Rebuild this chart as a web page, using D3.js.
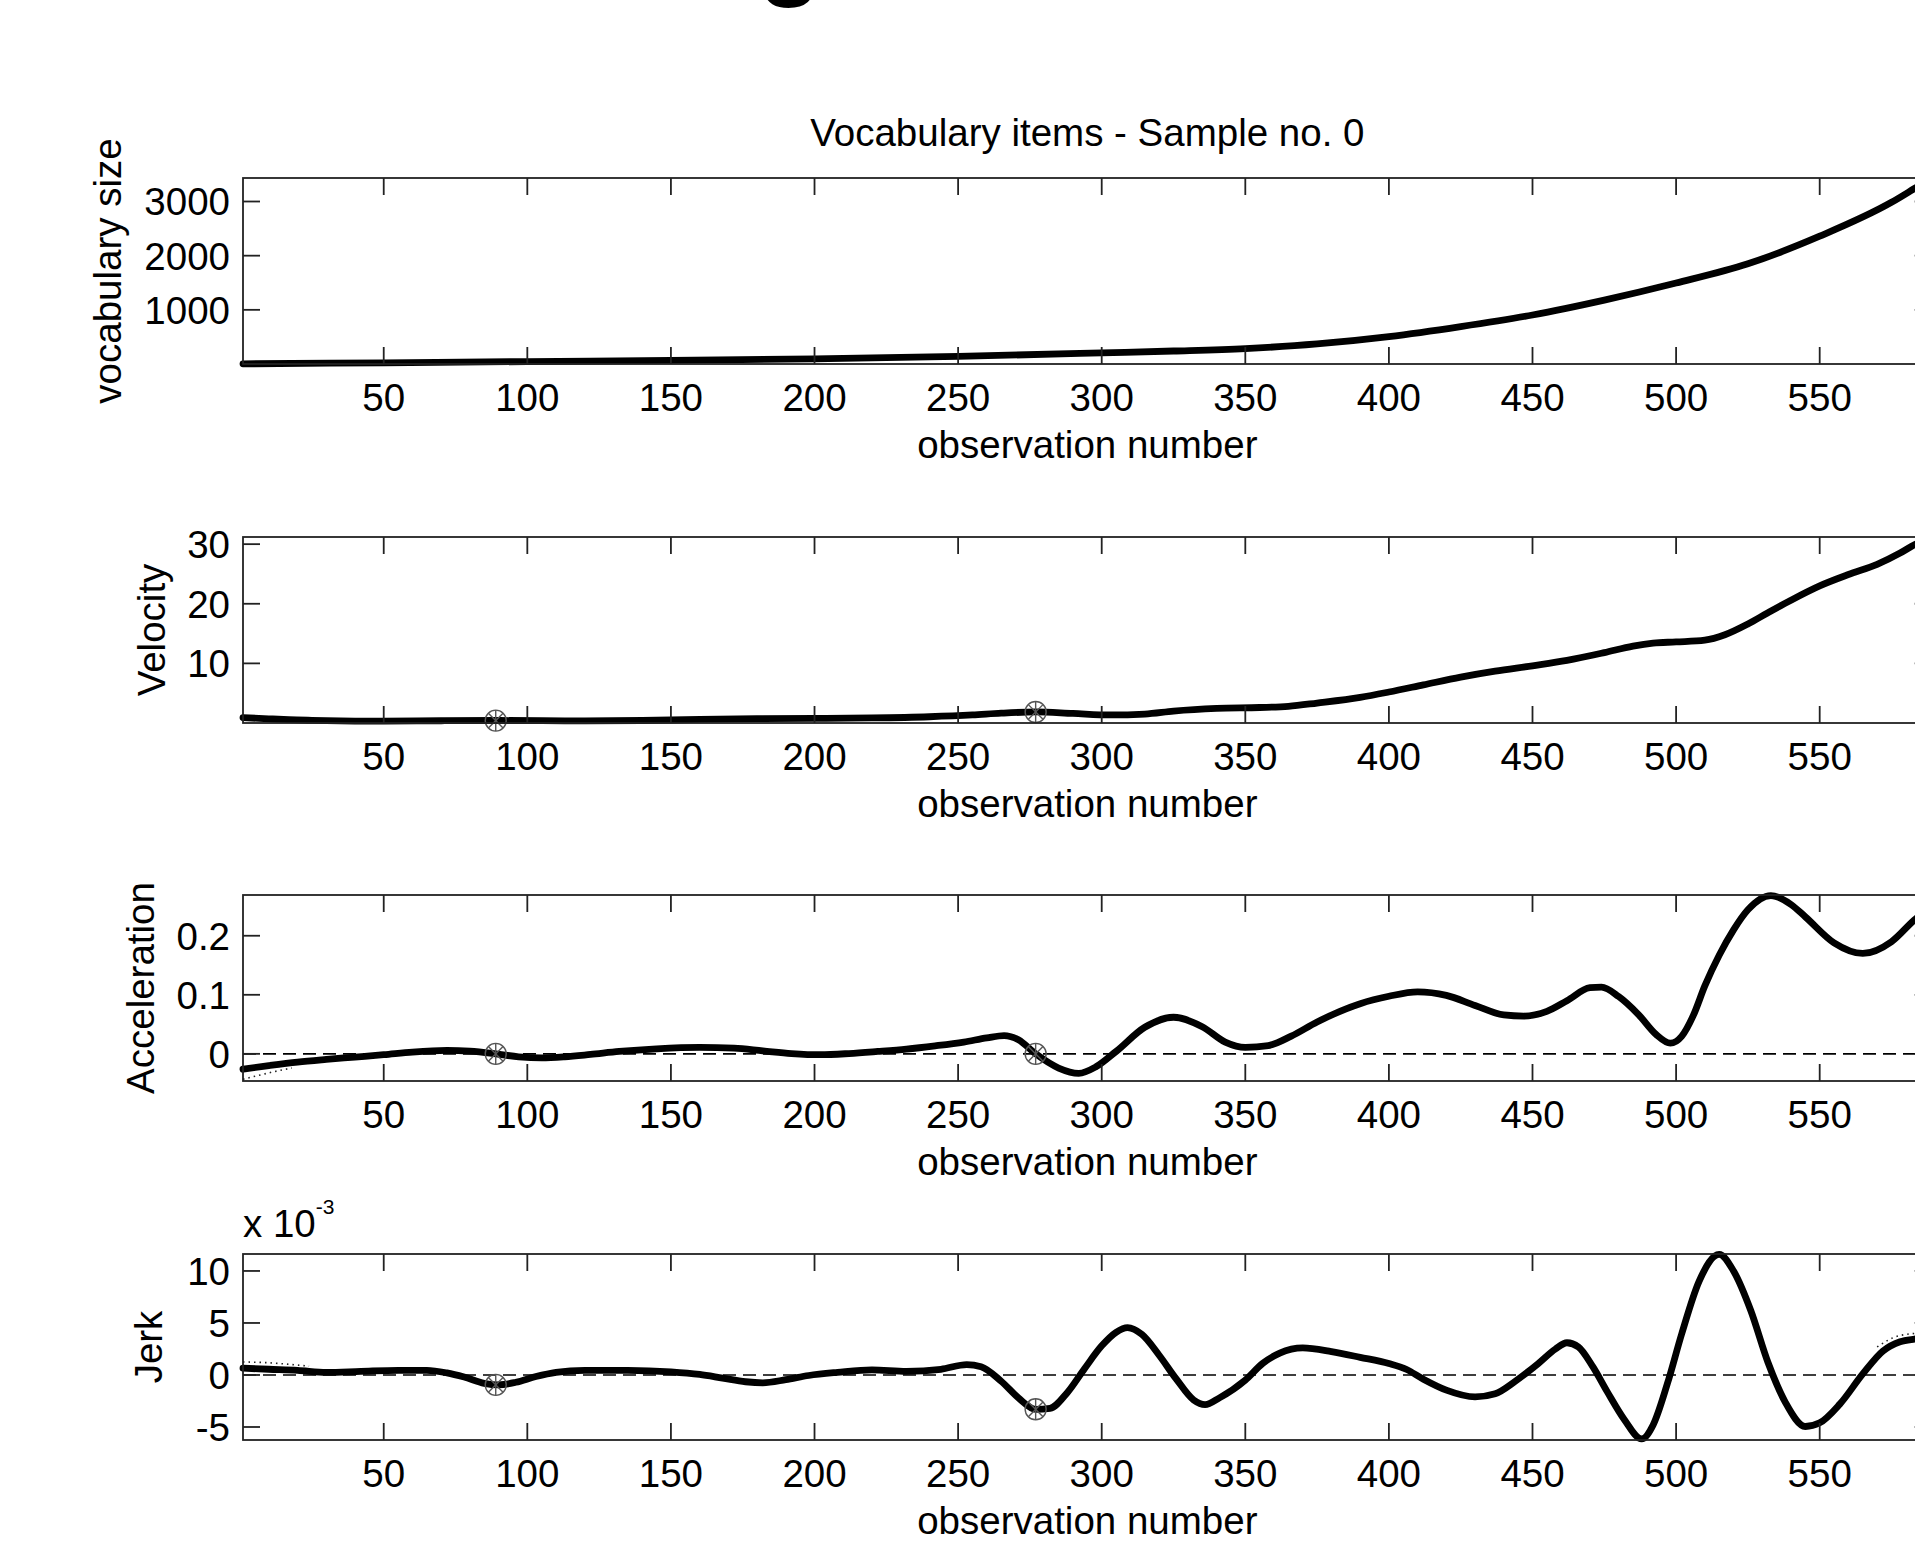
<!DOCTYPE html>
<html><head><meta charset="utf-8">
<script src="https://cdn.jsdelivr.net/npm/d3@7"></script>
<style>
html,body{margin:0;padding:0;background:#fff;overflow:hidden}
svg{display:block}
text{font-family:"Liberation Sans",Arial,Helvetica,sans-serif;fill:#000}
</style></head><body>
<svg id="chart" width="1915" height="1542"></svg>
<script>
// ---------------- data ----------------
const titleText = "Vocabulary items - Sample no. 0";
const xLabelText = "observation number";
const xTicks = [50,100,150,200,250,300,350,400,450,500,550];
const xLimits = [1, 589];

const vocabObs = [1,50,100,150,200,250,300,325,350,375,400,425,450,475,500,525,550,575,583,589];
const vocab    = [3,22,45,68,95,140,205,240,285,370,505,690,905,1180,1495,1850,2360,2985,3240,3434];
const vocabTicks = [1000,2000,3000];
const vocabLimits = [0,3434];

const velObs = [1,10,17,25,40,50,70,89,105,120,140,160,180,200,220,240,255,265,277,290,303,315,325,340,355,365,375,390,400,412,425,437,450,462,475,485,492,500,510,517,525,532,540,550,560,570,578,583,589];
const vel    = [0.9,0.7,0.55,0.45,0.33,0.3,0.38,0.42,0.4,0.35,0.42,0.6,0.72,0.78,0.85,1.05,1.35,1.65,1.85,1.6,1.35,1.5,2.0,2.45,2.6,2.8,3.35,4.3,5.2,6.4,7.7,8.7,9.6,10.5,11.8,12.9,13.4,13.6,13.9,14.8,16.6,18.5,20.6,23.0,24.9,26.6,28.5,29.9,31.2];
const velTicks = [10,20,30];
const velLimits = [0,31.2];

const accObs = [1,10,20,30,40,50,60,72,80,89,97,105,113,122,132,145,160,172,182,192,202,212,222,232,242,252,260,266,271,277,285,292,298,305,315,325,335,343,350,358,366,375,390,400,410,420,430,440,447,455,462,470,474,480,487,493,498,502,506,510,515,520,525,533,540,545,555,565,575,583,589];
const acc    = [-0.026,-0.020,-0.014,-0.0095,-0.0055,-0.0015,0.003,0.0058,0.0045,0,-0.005,-0.0068,-0.005,-0.001,0.004,0.0085,0.011,0.0095,0.005,0.0005,-0.0015,0.0005,0.004,0.008,0.0135,0.02,0.027,0.031,0.024,0,-0.024,-0.033,-0.022,0.004,0.045,0.062,0.046,0.02,0.011,0.014,0.03,0.054,0.085,0.0975,0.105,0.099,0.082,0.066,0.064,0.072,0.09,0.112,0.113,0.097,0.066,0.033,0.018,0.03,0.065,0.115,0.167,0.21,0.244,0.268,0.253,0.232,0.188,0.170,0.19,0.227,0.25];
const accTicks = [0,0.1,0.2];
const accLimits = [-0.046,0.269];

// jerk values in units of 10^-3
const jerkObs = [1,10,20,30,42,55,65,72,78,85,90,96,103,110,120,135,150,160,168,176,182,190,198,208,220,232,244,253,258,265,271,277,282,288,294,300,305,309,314,320,326,332,336,341,350,356,362,370,380,390,400,406,412,420,430,437,444,452,458,462,466,471,476,482,488,492,497,502,508,515,520,526,532,538,545,550,557,565,572,578,583,589];
const jerk    = [0.65,0.55,0.45,0.25,0.35,0.45,0.45,0.2,-0.2,-0.8,-0.95,-0.7,-0.15,0.25,0.45,0.45,0.3,0.05,-0.3,-0.65,-0.75,-0.45,-0.05,0.25,0.5,0.35,0.55,1.0,0.8,-0.6,-2.2,-3.3,-3.2,-1.7,0.6,2.8,4.1,4.55,3.9,1.9,-0.4,-2.4,-2.85,-2.2,-0.5,1.1,2.1,2.6,2.25,1.7,1.1,0.55,-0.4,-1.45,-2.1,-1.8,-0.6,1.1,2.5,3.1,2.7,0.8,-1.6,-4.3,-6.15,-4.8,-0.8,4.0,9.0,11.6,10.0,6.2,1.2,-2.6,-4.95,-4.6,-2.8,0.1,2.3,3.2,3.45,3.6];
const jerkTicks = [-5,0,5,10];
const jerkLimits = [-6.25,11.63];

// marked points (observations 89 and 277)
const markerObs = [89,277];
const velMarkers = [0.4,1.85];
const accMarkers = [0,0];
const jerkMarkers = [-0.95,-3.3];

// dotted error bands (partially visible)
const accBandObs = [1,6,12,18];
const accBand = [-0.043,-0.037,-0.03,-0.024];
const jerkBandObs = [1,8,16,24];
const jerkBand = [1.25,1.2,1.05,0.85];
const jerkBand2Obs = [570,578,589];
const jerkBand2 = [2.7,3.8,4.1];

// ---------------- drawing ----------------
const svg = d3.select("#chart");
const FONT = 38.5;
const x = d3.scaleLinear().domain(xLimits).range([243, 1931.7]);

// partially visible large heading glyph at the very top
svg.append("text").attr("x", 790).attr("y", -14)
  .attr("text-anchor","middle").style("font-size","104px").style("font-weight","bold")
  .text("g");

const panels = [
  {top:178, label:"vocabulary size", labelX:121, obs:vocabObs, vals:vocab, ticks:vocabTicks, lim:vocabLimits, fmt:d=>String(d)},
  {top:537, label:"Velocity", labelX:165, obs:velObs, vals:vel, ticks:velTicks, lim:velLimits, fmt:d=>String(d), mk:velMarkers},
  {top:895, label:"Acceleration", labelX:154, obs:accObs, vals:acc, ticks:accTicks, lim:accLimits, fmt:d=>String(d), mk:accMarkers, zero:true, band:[accBandObs,accBand]},
  {top:1254, label:"Jerk", labelX:162, obs:jerkObs, vals:jerk, ticks:jerkTicks, lim:jerkLimits, fmt:d=>String(d), mk:jerkMarkers, zero:true, band:[jerkBandObs,jerkBand], band2:[jerkBand2Obs,jerkBand2], exp:true}
];
const H = 186;
const TICK = 17;

panels.forEach((p,i) => {
  const y = d3.scaleLinear().domain(p.lim).range([p.top+H, p.top]);
  const g = svg.append("g");
  const x0 = x.range()[0], x1 = x.range()[1];

  if (p.zero) {
    g.append("line").attr("x1",x0).attr("x2",x1).attr("y1",y(0)).attr("y2",y(0))
      .attr("stroke","#000").attr("stroke-width",1.6).attr("stroke-dasharray","13,7");
  }

  const cid = "clip"+i;
  svg.append("clipPath").attr("id",cid).append("rect")
    .attr("x",x0-4).attr("y",p.top-4).attr("width",x1-x0+8).attr("height",H+8);

  const line = d3.line().x((d,k)=>x(p.obs[k])).y(d=>y(d)).curve(d3.curveMonotoneX);

  [p.band, p.band2].forEach(b => {
    if (!b) return;
    g.append("path").datum(b[1]).attr("d", d3.line().x((d,k)=>x(b[0][k])).y(d=>y(d)).curve(d3.curveMonotoneX))
      .attr("fill","none").attr("stroke","#222").attr("stroke-width",1.6).attr("stroke-dasharray","1.5,4");
  });

  g.append("path").datum(p.vals).attr("d", line)
    .attr("clip-path","url(#"+cid+")")
    .attr("fill","none").attr("stroke","#000").attr("stroke-width",6.8)
    .attr("stroke-linejoin","round").attr("stroke-linecap","round");

  if (p.mk) {
    markerObs.forEach((o,k) => {
      const cx = x(o), cy = y(p.mk[k]), r = 10.5;
      const m = g.append("g").attr("stroke","#555").attr("stroke-width",1.4).attr("fill","none");
      m.append("circle").attr("cx",cx).attr("cy",cy).attr("r",r);
      m.append("line").attr("x1",cx).attr("x2",cx).attr("y1",cy-r).attr("y2",cy+r);
      const dd = r*0.7;
      m.append("line").attr("x1",cx-dd).attr("x2",cx+dd).attr("y1",cy-dd).attr("y2",cy+dd);
      m.append("line").attr("x1",cx-dd).attr("x2",cx+dd).attr("y1",cy+dd).attr("y2",cy-dd);
    });
  }

  g.append("rect").attr("x",x0).attr("y",p.top).attr("width",x1-x0).attr("height",H)
    .attr("fill","none").attr("stroke","#222").attr("stroke-width",1.8);

  xTicks.forEach(t => {
    g.append("line").attr("x1",x(t)).attr("x2",x(t)).attr("y1",p.top+H).attr("y2",p.top+H-TICK)
      .attr("stroke","#222").attr("stroke-width",1.8);
    g.append("line").attr("x1",x(t)).attr("x2",x(t)).attr("y1",p.top).attr("y2",p.top+TICK)
      .attr("stroke","#222").attr("stroke-width",1.8);
    g.append("text").attr("x",x(t)).attr("y",p.top+H+47).attr("text-anchor","middle")
      .style("font-size",FONT+"px").text(t);
  });
  p.ticks.forEach(t => {
    g.append("line").attr("x1",x0).attr("x2",x0+TICK).attr("y1",y(t)).attr("y2",y(t))
      .attr("stroke","#222").attr("stroke-width",1.8);
    g.append("line").attr("x1",x1).attr("x2",x1-TICK).attr("y1",y(t)).attr("y2",y(t))
      .attr("stroke","#222").attr("stroke-width",1.8);
    g.append("text").attr("x",230).attr("y",y(t)).attr("dy","0.36em").attr("text-anchor","end")
      .style("font-size",FONT+"px").text(p.fmt(t));
  });

  g.append("text").attr("x",(x0+x1)/2).attr("y",p.top+H+94).attr("text-anchor","middle")
    .style("font-size",FONT+"px").text(xLabelText);
  g.append("text").attr("transform",`translate(${p.labelX},${p.top+H/2}) rotate(-90)`)
    .attr("text-anchor","middle").style("font-size",FONT+"px").text(p.label);

  if (i===0) {
    g.append("text").attr("x",(x0+x1)/2).attr("y",p.top-32).attr("text-anchor","middle")
      .style("font-size",FONT+"px").text(titleText);
  }
  if (p.exp) {
    const t = g.append("text").attr("x",243).attr("y",p.top-17).style("font-size",FONT+"px");
    t.append("tspan").text("x 10");
    t.append("tspan").attr("dy",-23).style("font-size","21px").text("-3");
  }
});
</script>
</body></html>
